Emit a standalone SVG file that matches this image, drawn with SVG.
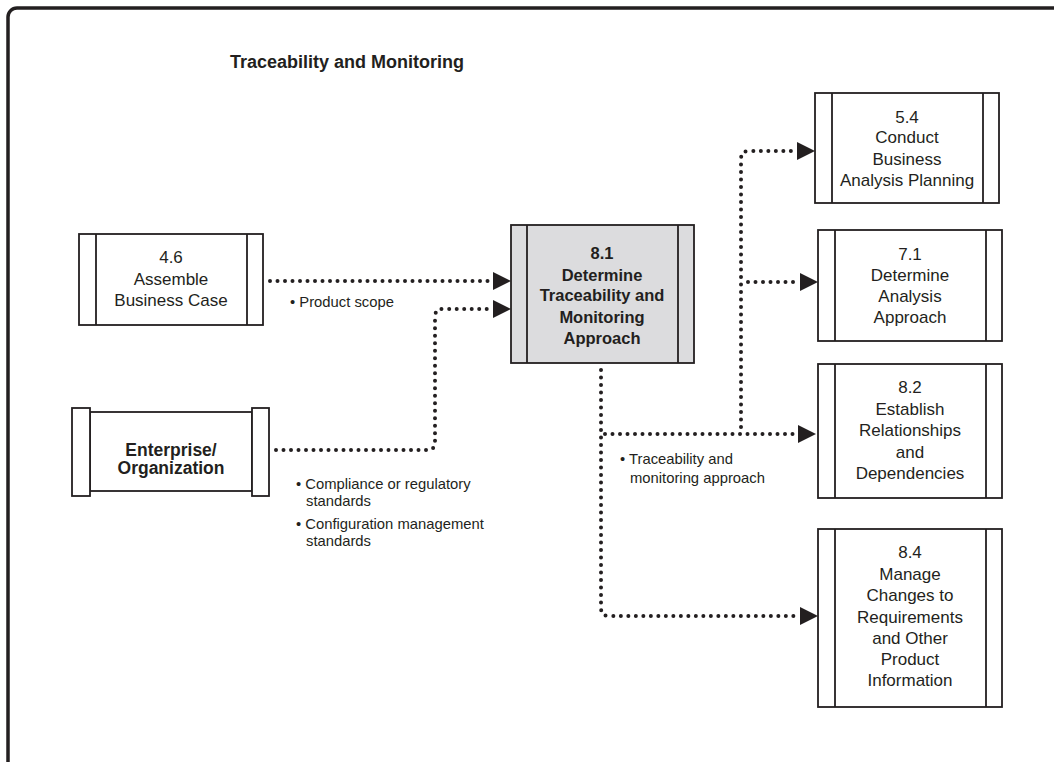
<svg xmlns="http://www.w3.org/2000/svg" xmlns:xlink="http://www.w3.org/1999/xlink" width="1054" height="762" viewBox="0 0 1054 762">
<style>
.frame{fill:none;stroke:#231f20;stroke-width:3.5}
.box{fill:#fff;stroke:#231f20;stroke-width:1.8}
.hl{fill:#dcdcde;stroke:#231f20;stroke-width:1.8}
.bar{stroke:#231f20;stroke-width:1.8}
.t{font-family:"Liberation Sans",Arial,sans-serif;font-size:17px;fill:#231f20;text-anchor:middle}
.tb{font-family:"Liberation Sans",Arial,sans-serif;font-size:16.5px;font-weight:bold;fill:#231f20;text-anchor:middle}
.lbl{font-family:"Liberation Sans",Arial,sans-serif;font-size:14.8px;fill:#231f20}
.title{font-family:"Liberation Sans",Arial,sans-serif;font-size:18px;font-weight:bold;fill:#231f20;text-anchor:middle}
.dot{fill:none;stroke:#231f20;stroke-width:4;stroke-linecap:round;stroke-dasharray:0 7.5}
.ah{fill:#231f20}
</style>
<defs>
<path id="ah" d="M-18,-9 L0,0 L-18,9 Z"/>
</defs>
<rect class="frame" x="8" y="8" width="1070" height="770" rx="9"/>
<text class="title" x="347" y="68">Traceability and Monitoring</text>

<g id="n46">
<rect class="box" x="79" y="234" width="184" height="91"/>
<line class="bar" x1="96" y1="234" x2="96" y2="325"/>
<line class="bar" x1="247" y1="234" x2="247" y2="325"/>
<text class="t" x="171" y="263">4.6</text>
<text class="t" x="171" y="285">Assemble</text>
<text class="t" x="171" y="306">Business Case</text>
</g>

<g id="nEnt">
<rect class="box" x="90" y="412" width="162" height="79"/>
<rect class="box" x="72" y="408" width="18" height="88"/>
<rect class="box" x="252" y="408" width="17" height="88"/>
<text class="tb" x="171" y="456" style="font-size:17.5px">Enterprise/</text>
<text class="tb" x="171" y="474" style="font-size:17.5px">Organization</text>
</g>

<g id="n81">
<rect class="hl" x="511" y="225" width="183" height="138"/>
<line class="bar" x1="527" y1="225" x2="527" y2="363"/>
<line class="bar" x1="678" y1="225" x2="678" y2="363"/>
<text class="tb" x="602" y="259">8.1</text>
<text class="tb" x="602" y="281">Determine</text>
<text class="tb" x="602" y="301">Traceability and</text>
<text class="tb" x="602" y="323">Monitoring</text>
<text class="tb" x="602" y="344">Approach</text>
</g>

<g id="n54">
<rect class="box" x="815" y="93" width="184" height="110"/>
<line class="bar" x1="832" y1="93" x2="832" y2="203"/>
<line class="bar" x1="983" y1="93" x2="983" y2="203"/>
<text class="t" x="907" y="123">5.4</text>
<text class="t" x="907" y="143">Conduct</text>
<text class="t" x="907" y="165">Business</text>
<text class="t" x="907" y="186">Analysis Planning</text>
</g>

<g id="n71">
<rect class="box" x="818" y="230" width="184" height="111"/>
<line class="bar" x1="835" y1="230" x2="835" y2="341"/>
<line class="bar" x1="986" y1="230" x2="986" y2="341"/>
<text class="t" x="910" y="260">7.1</text>
<text class="t" x="910" y="281">Determine</text>
<text class="t" x="910" y="302">Analysis</text>
<text class="t" x="910" y="323">Approach</text>
</g>

<g id="n82">
<rect class="box" x="818" y="364" width="184" height="134"/>
<line class="bar" x1="835" y1="364" x2="835" y2="498"/>
<line class="bar" x1="986" y1="364" x2="986" y2="498"/>
<text class="t" x="910" y="393">8.2</text>
<text class="t" x="910" y="415">Establish</text>
<text class="t" x="910" y="436">Relationships</text>
<text class="t" x="910" y="458">and</text>
<text class="t" x="910" y="479">Dependencies</text>
</g>

<g id="n84">
<rect class="box" x="818" y="529" width="184" height="178"/>
<line class="bar" x1="835" y1="529" x2="835" y2="707"/>
<line class="bar" x1="986" y1="529" x2="986" y2="707"/>
<text class="t" x="910" y="558">8.4</text>
<text class="t" x="910" y="580">Manage</text>
<text class="t" x="910" y="601">Changes to</text>
<text class="t" x="910" y="623">Requirements</text>
<text class="t" x="910" y="644">and Other</text>
<text class="t" x="910" y="665">Product</text>
<text class="t" x="910" y="686">Information</text>
</g>

<g id="connectors">
<path class="dot" d="M270 281 H493"/>
<path class="dot" d="M276 450 H427 Q435 450 435 442 V317 Q435 309 443 309 H493"/>
<path class="dot" d="M601 370 V608 Q601 616 609 616 H800"/>
<path class="dot" d="M605 434 H798"/>
<path class="dot" d="M741 427 V159 Q741 151 749 151 H797"/>
<path class="dot" d="M748 282 H800"/>
<use href="#ah" xlink:href="#ah" class="ah" x="511" y="281"/>
<use href="#ah" xlink:href="#ah" class="ah" x="511" y="309"/>
<use href="#ah" xlink:href="#ah" class="ah" x="815" y="151"/>
<use href="#ah" xlink:href="#ah" class="ah" x="818" y="282"/>
<use href="#ah" xlink:href="#ah" class="ah" x="816" y="434"/>
<use href="#ah" xlink:href="#ah" class="ah" x="818" y="616"/>
</g>

<g id="labels">
<text class="lbl" x="290" y="307">• Product scope</text>
<text class="lbl" x="296" y="489">• Compliance or regulatory</text>
<text class="lbl" x="306" y="506">standards</text>
<text class="lbl" x="296" y="529">• Configuration management</text>
<text class="lbl" x="306" y="546">standards</text>
<text class="lbl" x="620" y="464">• Traceability and</text>
<text class="lbl" x="630" y="483">monitoring approach</text>
</g>
</svg>
